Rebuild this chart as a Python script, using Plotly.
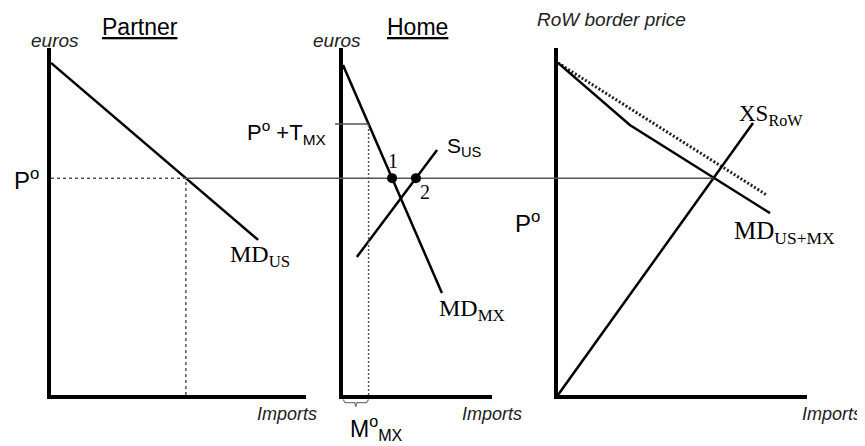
import numpy as np
import plotly.graph_objects as go

# page body margin in the browser shifts the figure by this many pixels
OFF = 8
SW, SH = 865, 446              # screen size
W, H = SW - OFF, SH - OFF      # figure size

# ---------------- data (price / quantity units) ----------------
P0 = 62.5                      # world price P°
P0_T = 78.1                    # P° + T_MX
# Partner panel
md_us_x = [0.0, 59.7]
md_us_y = [95.7, 44.7]
# Home panel
md_mx_x = [0.0, 28.5]
md_mx_y = [95.1, 29.4]
s_us_x = [4.0, 27.1]
s_us_y = [39.8, 70.6]
# RoW panel
md_sum_x = [0.0, 20.7, 61.1]
md_sum_y = [95.7, 77.8, 52.4]
md_old_x = [0.0, 60.2]
md_old_y = [95.7, 57.6]
xs_row_x = [0.0, 56.2]
xs_row_y = [0.0, 78.4]
# brace under M°_MX (relative to M°_MX width)
brace_fx = [0.0, 0.08, 0.46, 0.5, 0.54, 0.92, 1.0]
brace_y = [-1.3, -2.2, -2.2, -3.4, -2.2, -2.2, -1.3]

# ---------------- derived points ----------------
q_us = float(np.interp(P0, md_us_y[::-1], md_us_x[::-1]))
q_mT = float(np.interp(P0_T, md_mx_y[::-1], md_mx_x[::-1]))
q1 = float(np.interp(P0, md_mx_y[::-1], md_mx_x[::-1]))
q2 = float(np.interp(P0, s_us_y, s_us_x))
q_row = float(np.interp(P0, xs_row_y, xs_row_x))

# ---------------- layout geometry (screen pixels) ----------------
PXU = 3.47                       # pixels per unit
top_px, bot_px = 48, 395
panels_px = [(51, 306), (343, 492), (558, 807)]

def fx(px):
    return (px - OFF) / W

def fy(py):
    return 1 - (py - OFF) / H

ydom = [fy(bot_px), fy(top_px)]
x0_px = panels_px[0][0]
offs = [(a - x0_px) / PXU for a, b in panels_px]

fig = go.Figure()

def line(x, y, ax, color="black", width=2.5, dash="solid", mode="lines", **kw):
    fig.add_trace(go.Scatter(x=x, y=y, mode=mode, xaxis="x" + ax, yaxis="y" + ax,
                             line=dict(color=color, width=width, dash=dash),
                             hoverinfo="skip", showlegend=False, **kw))

GRAY = "#555555"
# Partner
line(md_us_x, md_us_y, "")
line([0, q_us], [P0, P0], "", color=GRAY, width=1.5, dash="3px,3px")
line([q_us, q_us], [0, P0], "", color=GRAY, width=1.5, dash="3px,3px")
# Home
line(md_mx_x, md_mx_y, "2")
line(s_us_x, s_us_y, "2")
line([q_mT, q_mT], [0, P0_T], "2", color=GRAY, width=1.5, dash="2px,2px")
# RoW
line(md_old_x, md_old_y, "3", color="#222222", width=3, dash="2px,2px")
line(md_sum_x, md_sum_y, "3")
line(xs_row_x, xs_row_y, "3")
# overlay (whole figure) elements
line([offs[0] + q_us, offs[2] + q_row], [P0, P0], "4", color=GRAY, width=1.5)
line([offs[1] - 2.3, offs[1] + q_mT], [P0_T, P0_T], "4", color=GRAY, width=1.5)
line([offs[1] + f * q_mT for f in brace_fx], brace_y, "4", color="#777777", width=1.2)
line([offs[1] + q1, offs[1] + q2], [P0, P0], "4", mode="markers",
     marker=dict(color="black", size=10))

axc = dict(showline=True, linecolor="black", linewidth=3.5, showgrid=False,
           zeroline=False, showticklabels=False, ticks="", fixedrange=True)
lay = {}
for i, (a, b) in enumerate(panels_px):
    s = "" if i == 0 else str(i + 1)
    lay["xaxis" + s] = dict(axc, domain=[fx(a), fx(b)], range=[0, (b - a) / PXU], anchor="y" + s)
    lay["yaxis" + s] = dict(axc, domain=ydom, range=[0, (bot_px - top_px) / PXU], anchor="x" + s)
lay["xaxis4"] = dict(domain=[0, 1], range=[(OFF - x0_px) / PXU, (SW - x0_px) / PXU],
                     anchor="y4", visible=False, fixedrange=True)
lay["yaxis4"] = dict(domain=[0, 1], range=[-(SH - bot_px) / PXU, (bot_px - OFF) / PXU],
                     anchor="x4", visible=False, fixedrange=True)

SANS = "Liberation Sans, Arial, sans-serif"
SERIF = "Liberation Serif, Times New Roman, serif"

def ann(text, px, py, size, family=SANS, xanchor="left", yanchor="middle", color="black"):
    return dict(x=fx(px), y=fy(py), xref="paper", yref="paper", text=text,
                showarrow=False, xanchor=xanchor, yanchor=yanchor,
                font=dict(size=size, family=family, color=color))

anns = [
    ann("<u>Partner</u>", 140, 27, 23, xanchor="center"),
    ann("<u>Home</u>", 417, 27, 23, xanchor="center"),
    ann("<i>euros</i>", 55, 40, 19, xanchor="center", color="#222"),
    ann("<i>euros</i>", 337, 40, 19, xanchor="center", color="#222"),
    ann("<i>RoW border price</i>", 535, 19, 19, color="#222"),
    ann("<i>Imports</i>", 287, 414, 18, xanchor="center", color="#222"),
    ann("<i>Imports</i>", 492, 414, 18, xanchor="center", color="#222"),
    ann("<i>Imports</i>", 832, 414, 18, xanchor="center", color="#222"),
    ann("P<sup>o</sup>", 12, 179, 24),
    ann("P<sup>o</sup> +T<sub>MX</sub>", 328, 133, 22, xanchor="right"),
    ann("P<sup>o</sup>", 513, 222, 24),
    ann("M<sup>o</sup><sub>MX</sub>", 348, 428, 23),
    ann("S<sub>US</sub>", 445, 147, 21),
    ann("MD<sub>US</sub>", 228, 256, 24, family=SERIF),
    ann("MD<sub>MX</sub>", 437, 310, 24, family=SERIF),
    ann("XS<sub>RoW</sub>", 737, 115, 23, family=SERIF),
    ann("MD<sub>US+MX</sub>", 732, 232, 25, family=SERIF),
    ann("1", 393, 161, 20, family=SERIF, xanchor="center"),
    ann("2", 425, 192, 20, family=SERIF, xanchor="center"),
]

fig.update_layout(width=W, height=H, margin=dict(l=0, r=0, t=0, b=0),
                  paper_bgcolor="white", plot_bgcolor="rgba(0,0,0,0)",
                  showlegend=False, annotations=anns, **lay)

fig.write_html("out.html")
